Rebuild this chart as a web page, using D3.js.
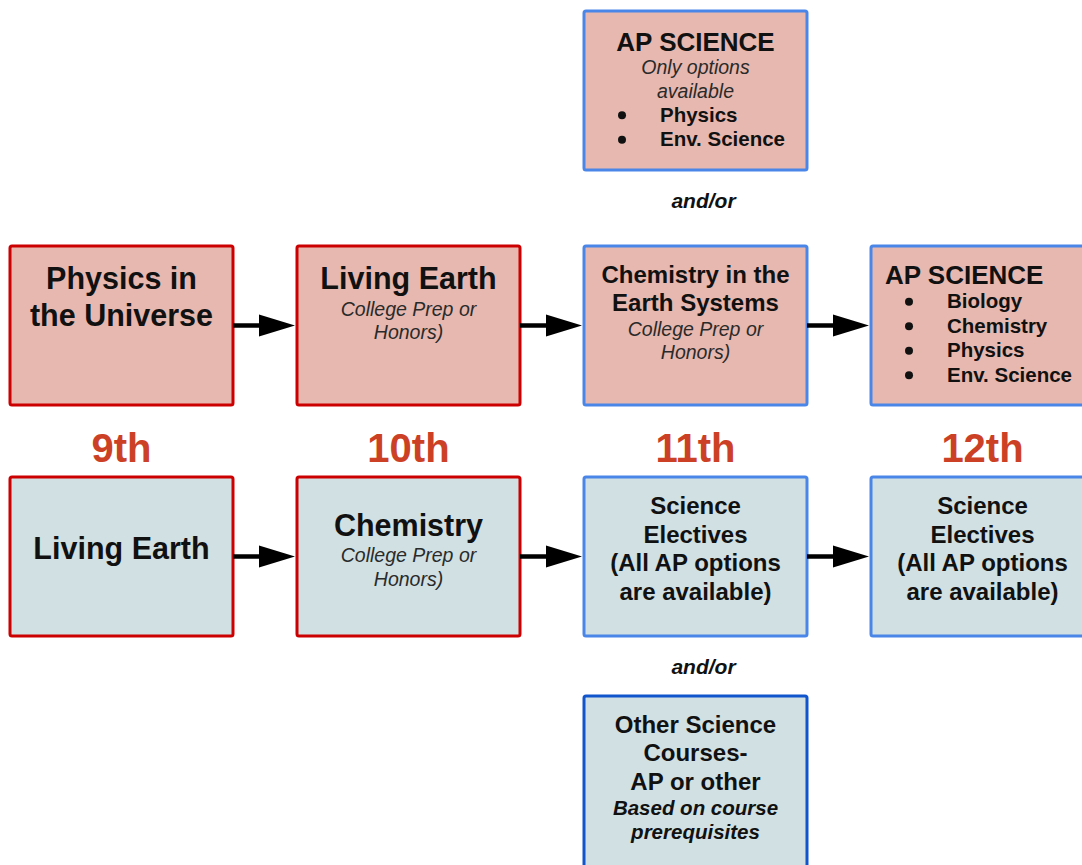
<!DOCTYPE html>
<html>
<head>
<meta charset="utf-8">
<script src="https://cdn.jsdelivr.net/npm/d3@7"></script>
<style>
  body { margin: 0; background: #fff; }
  svg { display: block; font-family: "Liberation Sans", Arial, sans-serif; }
</style>
</head>
<body>
<div id="chart"></div>
<script>
// grade columns and the rows of the pathway
const grades = ["9th", "10th", "11th", "12th"];
const rows = ["extraTop", "upper", "lower", "extraBottom"];

// course boxes: [kind, text] per line
const boxes = [
  {grade: "11th", row: "extraTop", type: "option", lines: [["title", "AP SCIENCE"], ["note", "Only options"], ["note", "available"], ["item", "Physics"], ["item", "Env. Science"]]},
  {grade: "9th", row: "upper", type: "core", lines: [["big", "Physics in"], ["big", "the Universe"]]},
  {grade: "10th", row: "upper", type: "core", lines: [["big", "Living Earth"], ["note", "College Prep or"], ["note", "Honors)"]]},
  {grade: "11th", row: "upper", type: "option", lines: [["head", "Chemistry in the"], ["head", "Earth Systems"], ["note", "College Prep or"], ["note", "Honors)"]]},
  {grade: "12th", row: "upper", type: "option", lines: [["listTitle", "AP SCIENCE"], ["item", "Biology"], ["item", "Chemistry"], ["item", "Physics"], ["item", "Env. Science"]]},
  {grade: "9th", row: "lower", type: "core", lines: [["big", "Living Earth"]]},
  {grade: "10th", row: "lower", type: "core", lines: [["big", "Chemistry"], ["note", "College Prep or"], ["note", "Honors)"]]},
  {grade: "11th", row: "lower", type: "option", lines: [["head", "Science"], ["head", "Electives"], ["head", "(All AP options"], ["head", "are available)"]]},
  {grade: "12th", row: "lower", type: "option", lines: [["head", "Science"], ["head", "Electives"], ["head", "(All AP options"], ["head", "are available)"]]},
  {grade: "11th", row: "extraBottom", type: "other", lines: [["head", "Other Science"], ["head", "Courses-"], ["head", "AP or other"], ["strong", "Based on course"], ["strong", "prerequisites"]]}
];

// arrows run along these rows from grade to grade
const tracks = ["upper", "lower"];

// "and/or" joins between rows in the 11th grade column
const joins = [
  {grade: "11th", rows: ["extraTop", "upper"], text: "and/or"},
  {grade: "11th", rows: ["lower", "extraBottom"], text: "and/or"}
];

const width = 1082, height = 865;

const x = d3.scaleBand().domain(grades).range([10, 1094]).paddingInner(0.223).paddingOuter(0);
const rowTop = d3.scaleOrdinal().domain(rows).range([11, 246, 477, 696]);
const rowHeight = d3.scaleOrdinal().domain(rows).range([159, 159, 159, 190]);
const rowAlign = d3.scaleOrdinal().domain(rows).range(["middle", "top", "middle", "top"]);

const fill = d3.scaleOrdinal().domain(rows).range(["#e6b8af", "#e6b8af", "#d0e0e3", "#d0e0e3"]);
const stroke = d3.scaleOrdinal().domain(["core", "option", "other"]).range(["#cc0000", "#4a86e8", "#1155cc"]);

const styles = {
  big:       {size: 30.5, weight: "bold", italic: false, lh: 37},
  head:      {size: 24, weight: "bold", italic: false, lh: 28.5},
  title:     {size: 26, weight: "bold", italic: false, lh: 28},
  listTitle: {size: 26, weight: "bold", italic: false, lh: 29},
  note:      {size: 19.5, weight: "normal", italic: true, lh: 23.5},
  item:      {size: 20.5, weight: "bold", italic: false, lh: 24.5},
  strong:    {size: 20.5, weight: "bold", italic: true, lh: 24.5}
};

const svg = d3.select("#chart").append("svg")
  .attr("width", width)
  .attr("height", height);

// boxes
const g = svg.append("g").selectAll("g.box")
  .data(boxes)
  .enter()
  .append("g")
  .attr("class", "box")
  .attr("transform", d => `translate(${x(d.grade)},${rowTop(d.row)})`);

g.append("rect")
  .attr("width", x.bandwidth())
  .attr("height", d => rowHeight(d.row))
  .attr("rx", 2)
  .attr("fill", d => fill(d.row))
  .attr("stroke", d => stroke(d.type))
  .attr("stroke-width", 3);

g.each(function(d) {
  const box = d3.select(this);
  const h = rowHeight(d.row);
  const total = d3.sum(d.lines, l => styles[l[0]].lh);
  let top;
  if (rowAlign(d.row) === "top") top = 14;
  else top = h / 2 - total / 2 - (d.row === "lower" ? 8 : 1);

  let cur = top;
  d.lines.forEach(([kind, txt]) => {
    const s = styles[kind];
    const base = cur + s.lh / 2 + s.size * 0.35;
    let tx = x.bandwidth() / 2, anchor = "middle";
    if (kind === "item") {
      box.append("circle")
        .attr("cx", 38)
        .attr("cy", base - s.size * 0.33)
        .attr("r", 4)
        .attr("fill", "#111");
      tx = 76; anchor = "start";
    }
    if (kind === "listTitle") { tx = 14; anchor = "start"; }
    box.append("text")
      .attr("x", tx)
      .attr("y", base)
      .attr("text-anchor", anchor)
      .attr("font-size", s.size)
      .attr("font-weight", s.weight)
      .attr("font-style", s.italic ? "italic" : "normal")
      .attr("fill", kind === "note" ? "#2a2a2a" : "#111")
      .text(txt);
    cur += s.lh;
  });
});

// arrows between consecutive grades
const arrows = [];
tracks.forEach(row => {
  d3.pairs(grades).forEach(([a, b]) => arrows.push({row, from: a, to: b}));
});

const head = 36, half = 11;
const ag = svg.append("g").selectAll("g.arrow")
  .data(arrows)
  .enter()
  .append("g")
  .attr("class", "arrow");

ag.append("line")
  .attr("x1", d => x(d.from) + x.bandwidth())
  .attr("x2", d => x(d.to) - head)
  .attr("y1", d => rowTop(d.row) + rowHeight(d.row) / 2)
  .attr("y2", d => rowTop(d.row) + rowHeight(d.row) / 2)
  .attr("stroke", "#000")
  .attr("stroke-width", 4.5);

ag.append("path")
  .attr("d", d => {
    const tip = x(d.to) - 2;
    const y = rowTop(d.row) + rowHeight(d.row) / 2;
    return `M${tip - head},${y - half}L${tip},${y}L${tip - head},${y + half}Z`;
  })
  .attr("fill", "#000");

// grade labels between the two main rows
svg.append("g").selectAll("text")
  .data(grades)
  .enter()
  .append("text")
  .attr("x", d => x(d) + x.bandwidth() / 2)
  .attr("y", (rowTop("upper") + rowHeight("upper") + rowTop("lower")) / 2 + 21)
  .attr("text-anchor", "middle")
  .attr("font-size", 40)
  .attr("font-weight", "bold")
  .attr("fill", "#cc4125")
  .text(d => d);

// and/or joins, just below the upper box of each pair
svg.append("g").selectAll("text")
  .data(joins)
  .enter()
  .append("text")
  .attr("x", d => x(d.grade) + x.bandwidth() / 2 + 8)
  .attr("y", d => rowTop(d.rows[0]) + rowHeight(d.rows[0]) + 38)
  .attr("text-anchor", "middle")
  .attr("font-size", 21)
  .attr("font-weight", "bold")
  .attr("font-style", "italic")
  .attr("fill", "#111")
  .text(d => d.text);
</script>
</body>
</html>
